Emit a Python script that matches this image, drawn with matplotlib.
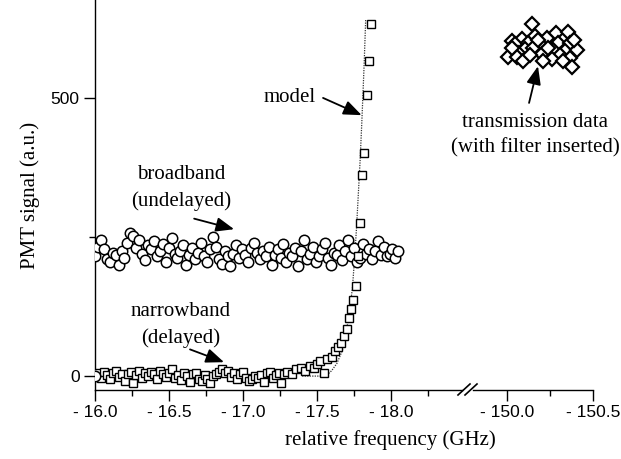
import matplotlib.pyplot as plt
import numpy as np
from matplotlib.ticker import MultipleLocator, FuncFormatter
from matplotlib.lines import Line2D

# broadband (undelayed) scan, -16.0 .. -18.05 GHz, evenly stepped
bb_start, bb_stop = -16.0, -18.05
bb_y = [215, 232, 245, 228, 210, 205, 222, 218, 200, 225, 212, 240, 258, 252, 230,
        245, 220, 208, 235, 228, 242, 215, 225, 238, 205, 230, 248, 220, 212, 225,
        235, 200, 218, 230, 210, 222, 240, 215, 205, 228, 250, 232, 210, 202, 225,
        215, 198, 220, 235, 212, 228, 218, 205, 230, 240, 222, 210, 225, 215, 232,
        200, 218, 228, 212, 238, 205, 222, 215, 230, 198, 225, 245, 210, 220, 232,
        205, 215, 228, 240, 212, 200, 222, 218, 235, 208, 225, 245, 215, 230, 205,
        212, 238, 220, 228, 210, 225, 242, 218, 232, 215, 220, 228, 212, 224]

# narrowband (delayed) flat part, -16.0 .. -17.28 GHz
nb_start, nb_stop = -16.0, -17.28
nb_flat_y = [0, 5, -3, 8, 2, -5, 6, 10, -2, 3, -8, 4, 7, -13, 2, 9, -4, 5, 0, 8,
             3, -6, 10, 4, -2, 6, 12, -3, 2, -7, 5, 0, -10, 3, 6, -5, -8, 2, -6, -12,
             0, 4, 8, 12, 6, 10, -2, 5, -5, 3, 8, -3, -8, -6, 0, -4, 2, -10, 5, 8,
             -3, 2, 6, -12, 4]
# narrowband rising edge
nb_rise_x = [-17.30, -17.33, -17.36, -17.39, -17.42, -17.45, -17.48, -17.50, -17.52,
             -17.55, -17.57, -17.60, -17.62, -17.64, -17.66, -17.68, -17.70, -17.715,
             -17.73, -17.745, -17.762, -17.775, -17.791, -17.806, -17.820, -17.836,
             -17.849, -17.865]
nb_rise_y = [8, 3, 12, 15, 10, 18, 14, 22, 28, 5, 30, 35, 45, 52, 60, 72, 85, 104,
             120, 137, 162, 215, 275, 361, 401, 505, 567, 633]

# model curve
model_x = [-17.40, -17.50, -17.56, -17.60, -17.635, -17.67, -17.696, -17.72, -17.74,
           -17.755, -17.768, -17.78, -17.791, -17.802, -17.812, -17.82, -17.829]
model_y = [0, 0, 0, 10, 23, 45, 77, 115, 160, 215, 270, 330, 385, 450, 515, 570, 640]

# transmission data (with filter inserted)
tr_x = [-150.144, -150.027, -150.085, -150.163, -150.231, -150.285, -150.356, -150.047,
        -150.124, -150.192, -150.298, -150.366, -150.105, -150.153, -150.269, -150.337,
        -150.405, -150.066, -150.202, -150.308, -150.008, -150.056, -150.260, -150.366,
        -150.095, -150.211, -150.327, -150.376, -150.180, -150.238, -150.390, -150.030,
        -150.134]
tr_y = [633, 603, 606, 612, 607, 616, 619, 597, 598, 597, 599, 599, 588, 589, 586, 585,
        586, 580, 579, 577, 573, 574, 570, 571, 567, 567, 567, 556, 604, 590, 604, 590,
        577]

serif = 'Liberation Serif'
sans = 'Liberation Sans'

fig = plt.figure(figsize=(6.21, 4.59), dpi=100)
ax1 = fig.add_axes([95 / 621, 69 / 459, 367 / 621, 390 / 459])
ax2 = fig.add_axes([473 / 621, 69 / 459, 120 / 621, 390 / 459])

bb_x = np.linspace(bb_start, bb_stop, len(bb_y))
nb_x = list(np.linspace(nb_start, nb_stop, len(nb_flat_y))) + nb_rise_x
nb_y = nb_flat_y + nb_rise_y

ax1.plot(model_x, model_y, ls=(0, (1, 1)), color='0.2', lw=0.9, zorder=2)
ax1.plot(bb_x, bb_y, 'o', ms=7.5, mfc='white', mec='black', mew=1.1, zorder=3)
ax1.plot(nb_x, nb_y, 's', ms=5.8, mfc='white', mec='black', mew=1.0, zorder=4)
ax1.plot(nb_x[0], nb_y[0], 'o', ms=7.5, mfc='white', mec='black', mew=1.1, zorder=5)
ax2.plot(tr_x, tr_y, 'D', ms=7, mfc='white', mec='black', mew=1.6, clip_on=False)

ax1.set_xlim(-16.0, -18.48)
ax2.set_xlim(-149.802, -150.5)
for ax in (ax1, ax2):
    ax.set_ylim(-25, 676)
    ax.spines['top'].set_visible(False)
    ax.spines['right'].set_visible(False)
    for s in ax.spines.values():
        s.set_linewidth(1.0)
    ax.xaxis.set_major_locator(MultipleLocator(0.5))
    ax.xaxis.set_minor_locator(MultipleLocator(0.25))
    ax.xaxis.set_major_formatter(FuncFormatter(lambda v, p: f'- {abs(v):.1f}'))
    ax.tick_params(axis='both', which='major', direction='out', length=8, width=1.0,
                   labelsize=12.5, pad=3)
    ax.tick_params(axis='both', which='minor', direction='out', length=4, width=1.0)
    for lab in ax.get_xticklabels() + ax.get_yticklabels():
        lab.set_fontfamily(sans)

ax1.yaxis.set_major_locator(MultipleLocator(500))
ax1.yaxis.set_minor_locator(MultipleLocator(250))
ax2.spines['left'].set_visible(False)
ax2.tick_params(axis='y', which='both', left=False, labelleft=False)
ax2.patch.set_alpha(0)

# break marks on the x axis
for dx in (0, 7):
    x0 = (458 + dx) / 621
    fig.add_artist(Line2D([x0, x0 + 12 / 621], [(459 - 395) / 459, (459 - 384) / 459],
                          color='black', lw=1.2))

ax1.set_ylabel('PMT signal (a.u.)', fontsize=15, family=serif, labelpad=8)
fig.text(390 / 621, 1 - 440 / 459, 'relative frequency (GHz)', fontsize=15,
         family=serif, ha='center', va='center')

arrow = dict(arrowstyle='-|>,head_length=0.55,head_width=0.22', color='black',
             lw=1.3, mutation_scale=20, shrinkA=0, shrinkB=0)

ax1.text(-17.318, 500, 'model', fontsize=15, family=serif, ha='center', va='center')
ax1.annotate('', xy=(-17.802, 469), xytext=(-17.541, 500), arrowprops=arrow)

ax1.text(-16.58, 338, 'broadband\n(undelayed)', fontsize=15, family=serif,
         ha='center', va='center', linespacing=1.45)
ax1.annotate('', xy=(-16.94, 264), xytext=(-16.67, 283), arrowprops=arrow)

ax1.text(-16.58, 92, 'narrowband\n(delayed)', fontsize=15, family=serif,
         ha='center', va='center', linespacing=1.45)
ax1.annotate('', xy=(-16.872, 25), xytext=(-16.642, 48), arrowprops=arrow)

ax2.text(-150.163, 433, 'transmission data\n(with filter inserted)', fontsize=15,
         family=serif, ha='center', va='center', linespacing=1.45, clip_on=False)
ax2.annotate('', xy=(-150.18, 557), xytext=(-150.128, 491), arrowprops=arrow,
             annotation_clip=False)

fig.savefig('out.png', dpi=100)
